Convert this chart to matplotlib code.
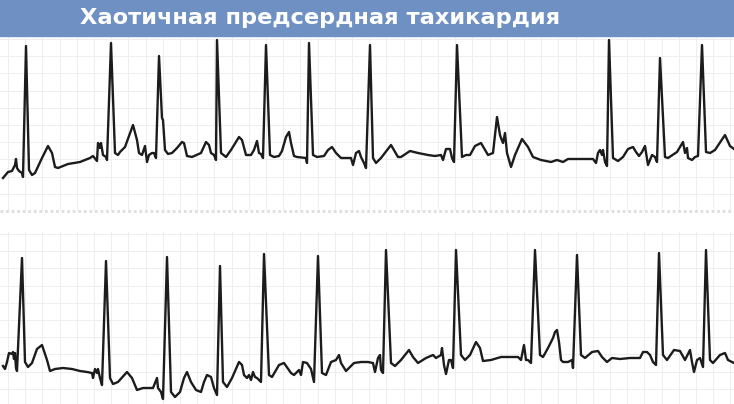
import matplotlib
matplotlib.use("Agg")
import matplotlib.pyplot as plt
import numpy as np

TITLE = "Хаотичная предсердная тахикардия"

# trace points (x: time in px, y: pen position in px, down is larger)
top_x = [3, 8, 12, 15, 16, 17, 19, 22, 23, 26, 29, 32, 35, 42, 48, 52, 55, 58, 68, 80, 90, 93, 97, 98, 100, 101, 103, 106, 107,
         111, 115, 118, 120, 125, 133, 137, 139, 142, 145, 147, 149, 152, 154, 156, 159, 162, 163, 165, 168, 172, 177, 182, 184,
         187, 192, 201, 206, 209, 211, 214, 216, 217, 221, 226, 231, 239, 242, 246, 251, 254, 257, 259, 261, 263, 266, 270, 274,
         279, 282, 286, 289, 291, 294, 297, 306, 307, 309, 313, 317, 324, 328, 332, 336, 341, 351, 353, 356, 359, 361, 364, 366,
         370, 373, 376, 381, 391, 398, 401, 410, 418, 428, 435, 441, 443, 446, 450, 452, 454, 457, 462, 466, 470, 475, 481, 488,
         493, 497, 500, 501, 503, 505, 507, 511, 515, 522, 528, 533, 541, 551, 557, 563, 568, 580, 593, 596, 598, 600, 602, 603,
         605, 607, 609, 613, 618, 623, 628, 633, 636, 639, 642, 645, 648, 652, 655, 657, 660, 665, 668, 677, 683, 685, 687, 688,
         692, 695, 698, 702, 706, 710, 715, 725, 730, 734]
top_y = [178, 172, 171, 165, 159, 168, 171, 173, 177, 46, 170, 175, 173, 158, 146, 153, 167, 168, 164, 162, 158, 156, 161, 143, 148, 143, 155, 157, 160,
         43, 153, 155, 152, 147, 125, 140, 153, 155, 146, 162, 155, 153, 153, 158, 56, 118, 120, 150, 154, 153, 148, 142, 143,
         156, 157, 153, 142, 145, 153, 155, 160, 40, 153, 157, 150, 137, 140, 155, 155, 150, 141, 153, 154, 158, 45, 155, 157,
         156, 151, 137, 132, 143, 156, 157, 158, 163, 43, 155, 157, 156, 150, 147, 153, 158, 158, 165, 153, 151, 157, 163, 168,
         45, 158, 163, 158, 145, 157, 157, 151, 153, 155, 156, 155, 160, 149, 149, 158, 162, 45, 157, 155, 155, 146, 143, 155,
         153, 117, 135, 138, 143, 133, 153, 167, 155, 139, 147, 157, 160, 162, 160, 162, 159, 159, 159, 163, 153, 150, 155, 150,
         162, 166, 40, 158, 161, 157, 149, 147, 152, 156, 152, 146, 165, 155, 157, 162, 58, 157, 158, 152, 142, 153, 148, 158,
         160, 157, 156, 45, 152, 153, 150, 135, 146, 149]

bottom_x = [3, 5, 7, 9, 12, 13, 14, 15, 16, 17, 22, 25, 28, 32, 37, 42, 47, 50, 55, 63, 72, 80, 87, 92, 93, 95, 97, 98, 100, 102,
            106, 110, 113, 118, 127, 132, 137, 143, 148, 153, 157, 158, 161, 163, 167, 171, 175, 180, 184, 187, 191, 196, 201,
            204, 207, 211, 214, 217, 220, 223, 227, 232, 239, 242, 244, 247, 249, 251, 253, 255, 257, 261, 264, 269, 272, 279,
            284, 291, 294, 299, 301, 303, 307, 311, 314, 318, 322, 326, 331, 336, 339, 341, 346, 354, 361, 368, 373, 375, 378,
            380, 381, 383, 386, 391, 395, 401, 409, 413, 418, 426, 433, 436, 441, 442, 444, 446, 449, 451, 453, 456, 461, 465,
            470, 476, 480, 483, 491, 501, 518, 521, 524, 526, 528, 531, 535, 540, 543, 548, 553, 555, 557, 559, 561, 563, 568,
            572, 573, 577, 581, 585, 592, 598, 602, 607, 612, 620, 630, 640, 643, 647, 650, 653, 656, 659, 663, 667, 674, 680,
            685, 690, 692, 694, 697, 700, 703, 706, 710, 713, 720, 725, 728, 734]
bottom_y = [366, 369, 362, 353, 354, 352, 359, 353, 368, 371, 258, 362, 367, 363, 349, 345, 360, 371, 369, 368, 369, 371, 372, 373, 378, 369, 373, 369, 378, 385,
            261, 378, 384, 382, 372, 378, 390, 388, 388, 388, 378, 388, 392, 399, 257, 392, 397, 392, 378, 372, 382, 390, 392,
            382, 375, 377, 388, 395, 266, 382, 387, 378, 362, 365, 375, 378, 375, 380, 372, 377, 378, 382, 254, 375, 377, 365,
            363, 373, 375, 370, 375, 362, 363, 369, 382, 256, 373, 375, 362, 360, 355, 363, 371, 363, 362, 362, 363, 372, 358,
            355, 370, 373, 250, 363, 366, 360, 350, 357, 363, 358, 355, 358, 355, 348, 365, 374, 360, 360, 368, 250, 355, 360,
            355, 342, 348, 361, 360, 357, 357, 360, 345, 360, 360, 363, 250, 355, 357, 348, 338, 332, 330, 342, 360, 362, 362,
            360, 368, 255, 355, 358, 352, 351, 357, 362, 358, 359, 358, 358, 352, 352, 355, 362, 365, 253, 355, 360, 350, 351,
            360, 350, 362, 372, 360, 358, 367, 250, 360, 363, 355, 353, 360, 363]

W, H = 734, 404
fig = plt.figure(figsize=(W / 100, H / 100), dpi=100)
ax = fig.add_axes([0, 0, 1, 1])
ax.set_xlim(0, W)
ax.set_ylim(H, 0)
ax.axis("off")

# paper grid for both strips
step = 17.2
for y0, y1 in [(37, 210), (232, 404)]:
    for gx in np.arange(8, W, step):
        ax.plot([gx, gx], [y0, y1], color="#eeeeee", lw=0.7, zorder=1)
    for gy in np.arange(y0 + 2, y1, step):
        ax.plot([0, W], [gy, gy], color="#eeeeee", lw=0.7, zorder=1)

# faint dotted band between the strips
ax.plot([0, W], [211, 211], color="#dedede", lw=2.0, ls=(0, (1, 1)), zorder=1)

ax.plot(top_x, top_y, color="#1c1c1c", lw=1.7, solid_joinstyle="round", zorder=3)
ax.plot(bottom_x, bottom_y, color="#1c1c1c", lw=1.7, solid_joinstyle="round", zorder=3)

# title banner
ax.add_patch(plt.Rectangle((0, 0), W, 36, color="#6e90c2", zorder=4))
ax.text(320, 18, TITLE, color="white", fontsize=16.2, fontweight="bold",
        ha="center", va="center", family="DejaVu Sans", zorder=5)

fig.savefig("out.png", dpi=100)
